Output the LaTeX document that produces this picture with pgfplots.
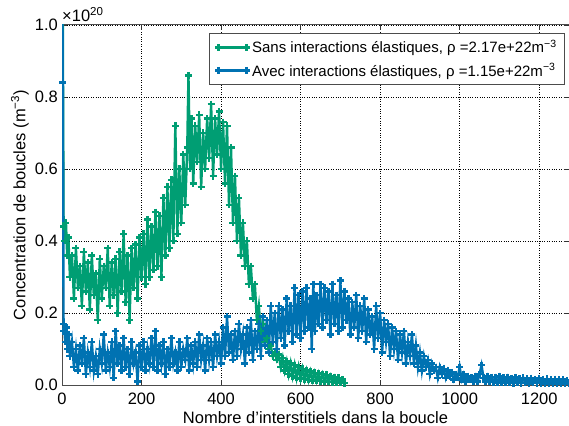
\documentclass[border=0pt]{standalone}
\usepackage{pgfplots}
\pgfplotsset{compat=1.18}
\usepackage{fontspec}
\setmainfont{Liberation Sans}
\definecolor{cgreen}{RGB}{0,158,115}
\definecolor{cblue}{RGB}{0,114,178}
\begin{document}
\begin{tikzpicture}
\begin{axis}[
  scale only axis, width=507pt, height=360pt,
  xmin=0, xmax=1275, ymin=0, ymax=1,
  xtick={0,200,...,1200}, ytick={0,0.2,...,1.0},
  scaled y ticks=false,
  /pgf/number format/assume math mode=true,
  /pgf/number format/set thousands separator={},
  yticklabel style={/pgf/number format/fixed, /pgf/number format/fixed zerofill, /pgf/number format/precision=1, anchor=east, inner sep=0pt, xshift=-4pt},
  xticklabel style={anchor=north, inner sep=0pt, yshift=-8pt},
  ticklabel style={font=\fontsize{16.5}{18}\selectfont},
  label style={font=\fontsize{16.5}{18}\selectfont},
  tick align=inside, major tick length=5pt,
  tick style={black!80, line width=0.8pt},
  axis line style={black!70, line width=1pt},
  grid=major, major grid style={dotted, black, line width=0.7pt},
  xlabel={Nombre d’interstitiels dans la boucle},
  ylabel={Concentration de boucles (m\textsuperscript{−3})},
  xlabel style={at={(rel axis cs:0.5,0)}, anchor=base, yshift=-38pt},
  ylabel style={at={(rel axis cs:0,0.5)}, anchor=center, yshift=42pt},
  legend style={at={(rel axis cs:1,1)}, anchor=north east, xshift=-4pt, yshift=-8pt, draw=black!70, line width=0.8pt, font=\fontsize{15}{17}\selectfont, row sep=5pt, inner xsep=6pt, inner ysep=5pt},
  legend cell align=left,
  legend image code/.code={\draw[#1,mark=none] (0pt,0pt) -- (28pt,0pt); \draw[#1] plot[only marks] coordinates {(0pt,0pt) (28pt,0pt)};},
]
\addplot[color=cgreen, line width=2.4pt, mark=+, mark size=3.5pt] coordinates {
(1,1.30) (4,0.44) (7,0.40) (10,0.45) (13,0.36) (16,0.41) (20,0.30)
(25,0.36) (30,0.24) (35,0.38) (40,0.27) (45,0.33) (50,0.22) (55,0.37) (60,0.26)
(65,0.34) (70,0.21) (75,0.36) (80,0.25) (85,0.31) (90,0.18) (95,0.35) (100,0.24)
(105,0.33) (110,0.27) (115,0.38) (120,0.22) (125,0.34) (130,0.25) (135,0.35) (140,0.20)
(145,0.37) (150,0.26) (155,0.42) (160,0.23) (165,0.36) (170,0.18) (175,0.38) (180,0.27)
(185,0.39) (190,0.24) (195,0.41) (200,0.30) (205,0.42) (210,0.28) (215,0.46) (220,0.30)
(225,0.44) (230,0.32) (235,0.48) (240,0.33) (245,0.47) (250,0.30) (255,0.52) (260,0.36)
(265,0.55) (270,0.38) (275,0.57) (280,0.40) (285,0.72) (290,0.42) (295,0.60) (300,0.45)
(305,0.64) (310,0.50) (315,0.66) (318,0.86) (322,0.60) (326,0.74) (330,0.56) (335,0.72)
(340,0.62) (345,0.75) (350,0.55) (355,0.70) (360,0.60) (365,0.74) (370,0.63) (375,0.78)
(380,0.58) (385,0.74) (390,0.64) (395,0.76) (400,0.60) (405,0.73) (410,0.56) (415,0.72)
(420,0.50) (425,0.66) (430,0.45) (435,0.58) (440,0.40) (445,0.52) (450,0.36) (455,0.45)
(460,0.33) (465,0.40) (470,0.28) (475,0.33) (480,0.24) (485,0.28) (490,0.18) (495,0.22)
(500,0.15) (505,0.17) (510,0.12) (515,0.13) (520,0.10) (525,0.11) (530,0.08) (535,0.09)
(540,0.07) (545,0.085) (550,0.05) (555,0.075) (560,0.04) (565,0.065) (570,0.03) (575,0.06)
(580,0.025) (585,0.055) (590,0.02) (595,0.05) (600,0.018) (605,0.045) (610,0.016) (615,0.04)
(620,0.014) (625,0.037) (630,0.013) (635,0.034) (640,0.012) (645,0.032) (650,0.011) (655,0.03)
(660,0.01) (665,0.028) (670,0.009) (675,0.025) (680,0.008) (685,0.022) (690,0.007) (695,0.02)
(700,0.006) (705,0.015) (710,0.005)
};
\addlegendentry{Sans interactions élastiques, ρ =2.17e+22m\textsuperscript{−3}}
\addplot[color=cblue, line width=2.4pt, mark=+, mark size=3.5pt] coordinates {
(0,1.30) (2,0.84) (4,0.15) (5,0.17) (8,0.12) (11,0.16) (14,0.10) (17,0.14) (20,0.08)
(25,0.12) (30,0.05) (35,0.10) (40,0.04) (45,0.11) (50,0.06) (55,0.13) (60,0.03)
(65,0.09) (70,0.05) (75,0.12) (80,0.04) (85,0.08) (90,0.03) (95,0.10) (100,0.06)
(105,0.14) (110,0.04) (115,0.09) (120,0.05) (125,0.12) (130,0.02) (135,0.15) (140,0.06)
(145,0.11) (150,0.04) (155,0.13) (160,0.05) (165,0.10) (170,0.03) (175,0.12) (180,0.06)
(185,0.09) (190,0.01) (195,0.11) (200,0.05) (205,0.12) (210,0.04) (215,0.10) (220,0.06)
(225,0.13) (230,0.05) (235,0.15) (240,0.04) (245,0.11) (250,0.06) (255,0.12) (260,0.03)
(265,0.10) (270,0.05) (275,0.13) (280,0.06) (285,0.09) (290,0.04) (295,0.12) (300,0.05)
(305,0.10) (310,0.07) (315,0.13) (320,0.04) (325,0.11) (330,0.06) (335,0.12) (340,0.05)
(345,0.14) (350,0.07) (355,0.11) (360,0.04) (365,0.13) (370,0.07) (375,0.12) (380,0.05)
(385,0.14) (390,0.08) (395,0.12) (400,0.06) (405,0.16) (410,0.08) (415,0.19) (420,0.09)
(425,0.14) (430,0.07) (435,0.15) (440,0.08) (445,0.17) (450,0.10) (455,0.14) (460,0.06)
(465,0.16) (470,0.09) (475,0.18) (480,0.07) (485,0.15) (490,0.10) (495,0.17) (500,0.08)
(505,0.19) (510,0.11) (515,0.18) (520,0.09) (525,0.22) (530,0.12) (535,0.20) (540,0.10)
(545,0.22) (550,0.13) (555,0.21) (560,0.11) (565,0.24) (570,0.15) (575,0.22) (580,0.12)
(585,0.27) (590,0.14) (595,0.25) (600,0.13) (605,0.26) (610,0.15) (615,0.27) (620,0.16)
(625,0.24) (628,0.10) (632,0.28) (636,0.15) (640,0.25) (645,0.17) (650,0.28) (655,0.16)
(660,0.27) (665,0.18) (670,0.26) (675,0.14) (680,0.28) (685,0.17) (690,0.25) (695,0.15)
(700,0.29) (705,0.16) (710,0.26) (715,0.18) (720,0.24) (725,0.14) (730,0.23) (735,0.16)
(740,0.25) (745,0.13) (750,0.22) (755,0.15) (760,0.24) (765,0.12) (770,0.21) (775,0.14)
(780,0.19) (785,0.10) (790,0.22) (795,0.13) (800,0.20) (805,0.09) (810,0.18) (815,0.12)
(820,0.17) (825,0.08) (830,0.16) (835,0.10) (840,0.15) (845,0.07) (850,0.14) (855,0.09)
(860,0.15) (865,0.06) (870,0.12) (875,0.08) (880,0.14) (885,0.06) (890,0.11) (895,0.05)
(900,0.09) (905,0.04) (910,0.08) (915,0.05) (920,0.07) (925,0.03) (930,0.06) (935,0.04)
(940,0.05) (945,0.02) (950,0.05) (955,0.03) (960,0.045) (965,0.02) (970,0.04) (975,0.025)
(980,0.035) (985,0.015) (990,0.03) (995,0.02) (1000,0.05) (1005,0.015) (1010,0.03) (1015,0.01)
(1020,0.025) (1025,0.015) (1030,0.02) (1035,0.01) (1040,0.025) (1045,0.01) (1050,0.03) (1055,0.055)
(1060,0.02) (1065,0.01) (1070,0.025) (1075,0.01) (1080,0.022) (1085,0.008) (1090,0.022) (1095,0.007)
(1100,0.024) (1105,0.008) (1110,0.02) (1115,0.006) (1120,0.022) (1125,0.007) (1130,0.019) (1135,0.005)
(1140,0.021) (1145,0.007) (1150,0.018) (1155,0.005) (1160,0.02) (1165,0.006) (1170,0.017) (1175,0.004)
(1180,0.019) (1185,0.006) (1190,0.016) (1195,0.005) (1200,0.018) (1205,0.005) (1210,0.016) (1215,0.004)
(1220,0.017) (1225,0.005) (1230,0.015) (1235,0.004) (1240,0.016) (1245,0.005) (1250,0.014) (1255,0.004)
(1260,0.015) (1265,0.005) (1270,0.013) (1275,0.004)
};
\addlegendentry{Avec interactions élastiques, ρ =1.15e+22m\textsuperscript{−3}}
\coordinate (bl) at (rel axis cs:0,0);
\coordinate (tr) at (rel axis cs:1,1);
\end{axis}
\node[anchor=south west, inner sep=0pt, yshift=3pt, font=\fontsize{16.5}{18}\selectfont] at (bl |- tr) {×10\textsuperscript{20}};
\pgfresetboundingbox
\path ([shift={(-62pt,-40pt)}]bl) rectangle ([shift={(0pt,25pt)}]tr);
\end{tikzpicture}
\end{document}
